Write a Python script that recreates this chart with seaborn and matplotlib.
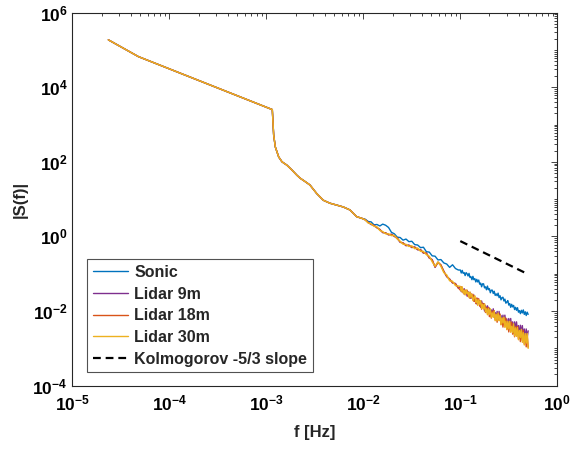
import numpy as np
import pandas as pd
import matplotlib
matplotlib.use("Agg")
import matplotlib.pyplot as plt
import seaborn as sns
from matplotlib.ticker import FixedLocator, FuncFormatter, NullFormatter

# Valores (en log10)
# tramo comun de baja frecuencia
low_logf = [-4.63, -4.32, -2.939, -2.925, -2.908, -2.873, -2.839, -2.788, -2.736,
            -2.685, -2.651, -2.60, -2.551, -2.481, -2.413, -2.344, -2.275, -2.207,
            -2.138, -2.069, -2.01]
low_logS = [5.27, 4.82, 3.40, 2.72, 2.40, 2.13, 2.00, 1.91, 1.78,
            1.64, 1.56, 1.47, 1.38, 1.15, 0.97, 0.89, 0.84, 0.79,
            0.71, 0.53, 0.48]

# frecuencias del tramo ruidoso
tail_logf = [-1.98, -1.95, -1.92, -1.89, -1.86, -1.83, -1.80, -1.77, -1.74, -1.71,
             -1.68, -1.65, -1.62, -1.59, -1.56, -1.53, -1.50, -1.47, -1.44, -1.41,
             -1.38, -1.35, -1.32, -1.29, -1.26, -1.23, -1.20, -1.17, -1.14, -1.11,
             -1.08, -1.05, -1.02,
             -1.00, -0.99, -0.98, -0.97, -0.96, -0.95, -0.94, -0.93, -0.92, -0.91,
             -0.90, -0.89, -0.88, -0.87, -0.86, -0.85, -0.84, -0.83, -0.82, -0.81,
             -0.80, -0.79, -0.78, -0.77, -0.76, -0.75, -0.74, -0.73, -0.72, -0.71,
             -0.70, -0.69, -0.68, -0.67, -0.66, -0.65, -0.64, -0.63, -0.62, -0.61,
             -0.60, -0.59, -0.58, -0.57, -0.56, -0.55, -0.54, -0.53, -0.52, -0.51,
             -0.50, -0.49, -0.48, -0.47, -0.46, -0.45, -0.44, -0.43, -0.42, -0.41,
             -0.40, -0.39, -0.38, -0.37, -0.36, -0.35, -0.34, -0.33, -0.32, -0.31,
             -0.30]

sonic_tail = [0.46, 0.40, 0.39, 0.31, 0.32, 0.28, 0.33, 0.30, 0.24, 0.11,
              0.07, -0.02, -0.03, -0.10, -0.07, -0.14, -0.13, -0.22, -0.23, -0.30,
              -0.29, -0.41, -0.42, -0.52, -0.53, -0.63, -0.62, -0.71, -0.74, -0.83,
              -0.76, -0.86, -0.90,
              -0.90, -0.98, -0.91, -0.99, -0.97, -1.05, -0.97, -1.00, -1.06, -0.99,
              -1.10, -1.08, -1.16, -1.07, -1.16, -1.13, -1.22, -1.15, -1.22, -1.17,
              -1.28, -1.25, -1.35, -1.27, -1.27, -1.38, -1.35, -1.43, -1.33, -1.43,
              -1.40, -1.51, -1.44, -1.44, -1.53, -1.47, -1.58, -1.54, -1.59, -1.52,
              -1.64, -1.59, -1.70, -1.64, -1.63, -1.73, -1.68, -1.79, -1.76, -1.72,
              -1.84, -1.80, -1.90, -1.82, -1.89, -1.85, -1.96, -1.90, -1.98, -1.91,
              -2.03, -1.99, -2.07, -1.98, -2.05, -1.97, -2.09, -2.02, -2.12, -2.03,
              -2.09]

lidar9_tail = [0.44, 0.38, 0.32, 0.30, 0.23, 0.19, 0.10, 0.10, 0.04, 0.06,
               0.00, -0.05, -0.16, -0.17, -0.25, -0.23, -0.30, -0.28, -0.36, -0.35,
               -0.45, -0.44, -0.58, -0.62, -0.83, -0.69, -0.77, -0.93, -1.08, -1.14,
               -1.25, -1.26, -1.39,
               -1.35, -1.48, -1.41, -1.50, -1.40, -1.52, -1.46, -1.60, -1.48, -1.57,
               -1.50, -1.66, -1.58, -1.69, -1.57, -1.74, -1.68, -1.81, -1.66, -1.80,
               -1.72, -1.90, -1.73, -1.87, -1.80, -2.00, -1.86, -1.99, -1.86, -2.02,
               -1.92, -2.13, -1.97, -2.07, -1.94, -2.16, -2.04, -2.21, -2.01, -2.18,
               -2.01, -2.22, -2.12, -2.31, -2.11, -2.26, -2.11, -2.35, -2.21, -2.43,
               -2.20, -2.37, -2.20, -2.48, -2.29, -2.54, -2.29, -2.49, -2.29, -2.57,
               -2.39, -2.66, -2.38, -2.60, -2.39, -2.69, -2.48, -2.77, -2.48, -2.72,
               -2.53]

lidar18_tail = [0.45, 0.37, 0.33, 0.29, 0.24, 0.18, 0.11, 0.09, 0.05, 0.05,
                0.01, -0.04, -0.15, -0.18, -0.24, -0.24, -0.29, -0.29, -0.35, -0.36,
                -0.44, -0.45, -0.57, -0.63, -0.82, -0.70, -0.76, -0.94, -1.07, -1.15,
                -1.24, -1.27, -1.38,
                -1.44, -1.35, -1.49, -1.42, -1.55, -1.44, -1.53, -1.44, -1.61, -1.51,
                -1.66, -1.53, -1.63, -1.55, -1.74, -1.65, -1.80, -1.65, -1.80, -1.67,
                -1.87, -1.78, -1.95, -1.79, -1.91, -1.81, -2.04, -1.91, -2.06, -1.90,
                -2.15, -2.01, -2.19, -2.00, -2.14, -1.99, -2.24, -2.08, -2.30, -2.08,
                -2.25, -2.08, -2.36, -2.20, -2.43, -2.19, -2.40, -2.19, -2.49, -2.34,
                -2.56, -2.30, -2.53, -2.30, -2.62, -2.43, -2.69, -2.41, -2.66, -2.41,
                -2.75, -2.54, -2.82, -2.52, -2.79, -2.52, -2.88, -2.65, -2.96, -2.63,
                -2.97]

lidar30_tail = [0.44, 0.36, 0.34, 0.27, 0.26, 0.16, 0.13, 0.07, 0.07, 0.02,
                0.03, -0.07, -0.13, -0.21, -0.21, -0.27, -0.25, -0.33, -0.31, -0.40,
                -0.40, -0.49, -0.53, -0.68, -0.80, -0.68, -0.80, -0.97, -1.03, -1.19,
                -1.20, -1.32, -1.33,
                -1.34, -1.47, -1.35, -1.52, -1.44, -1.57, -1.43, -1.54, -1.49, -1.64,
                -1.49, -1.63, -1.55, -1.72, -1.64, -1.59, -1.77, -1.68, -1.85, -1.70,
                -1.82, -1.72, -1.93, -1.82, -1.95, -1.81, -2.02, -1.94, -2.10, -1.93,
                -2.09, -1.94, -2.17, -2.05, -2.17, -2.00, -2.26, -2.09, -2.26, -2.05,
                -2.26, -2.12, -2.37, -2.18, -2.32, -2.16, -2.44, -2.27, -2.50, -2.27,
                -2.48, -2.27, -2.57, -2.41, -2.58, -2.34, -2.67, -2.45, -2.68, -2.44,
                -2.77, -2.52, -2.71, -2.49, -2.84, -2.58, -2.91, -2.60, -2.86, -2.60,
                -3.00]

# linea de referencia Kolmogorov
kolmo_f = [0.1, 0.5]
kolmo_S = [0.75, 0.097]

series_names = ["Sonic", "Lidar 9m", "Lidar 18m", "Lidar 30m"]
series_tails = [sonic_tail, lidar9_tail, lidar18_tail, lidar30_tail]
colors = {"Sonic": "#0072BD", "Lidar 9m": "#7E2F8E",
          "Lidar 18m": "#D95319", "Lidar 30m": "#EDB120"}

frames = []
for name, tail in zip(series_names, series_tails):
    frames.append(pd.DataFrame({
        "f": 10 ** np.array(low_logf + tail_logf),
        "S": 10 ** np.array(low_logS + tail),
        "serie": name,
    }))
df = pd.concat(frames, ignore_index=True)

sns.set_theme(style="white")
plt.rcParams["font.family"] = ["Liberation Sans", "DejaVu Sans"]
plt.rcParams["font.weight"] = "bold"
plt.rcParams["mathtext.fontset"] = "custom"
plt.rcParams["mathtext.rm"] = "Liberation Sans:bold"
plt.rcParams["mathtext.bf"] = "Liberation Sans:bold"

fig = plt.figure(figsize=(5.73, 4.5), dpi=100)
ax = fig.add_axes([0.1265, 0.143, 0.846, 0.829])

sns.lineplot(data=df, x="f", y="S", hue="serie", hue_order=series_names,
             palette=colors, estimator=None, sort=False, linewidth=1.0,
             legend=False, ax=ax)
sns.lineplot(x=kolmo_f, y=kolmo_S, color="black", linewidth=1.6,
             linestyle=(0, (3.5, 2.2)), ax=ax)

ax.set_xscale("log")
ax.set_yscale("log")
ax.set_xlim(1e-5, 1e0)
ax.set_ylim(1e-4, 1e6)

# ticks estilo matlab
ax.xaxis.set_major_locator(FixedLocator([10.0 ** k for k in range(-5, 1)]))
ax.yaxis.set_major_locator(FixedLocator([10.0 ** k for k in range(-4, 7, 2)]))
xminor = [m * 10.0 ** k for k in range(-5, 0) for m in range(2, 10)]
yminor = [m * 10.0 ** k for k in range(-4, 6) for m in range(1, 10) if not (m == 1 and k % 2 == 0)]
ax.xaxis.set_minor_locator(FixedLocator(xminor))
ax.yaxis.set_minor_locator(FixedLocator(yminor))
ax.xaxis.set_minor_formatter(NullFormatter())
ax.yaxis.set_minor_formatter(NullFormatter())
fmt = FuncFormatter(lambda v, p: r"$\mathbf{10^{%d}}$" % int(round(np.log10(v))))
ax.xaxis.set_major_formatter(fmt)
ax.yaxis.set_major_formatter(fmt)
ax.tick_params(which="both", direction="in", top=True, right=True,
               colors="#262626", labelcolor="black", labelsize=12.5, width=0.6)
ax.tick_params(which="major", length=4)
ax.tick_params(which="minor", length=2)
ax.tick_params(axis="x", pad=6)
for s in ax.spines.values():
    s.set_color("#262626")
    s.set_linewidth(0.8)

ax.set_xlabel("f [Hz]", fontsize=12, fontweight="bold", labelpad=8)
ax.set_ylabel("|S(f)|", fontsize=12, fontweight="bold", labelpad=3)

labels = series_names + ["Kolmogorov -5/3 slope"]
leg = ax.legend(ax.lines[:5], labels, loc="lower left",
                bbox_to_anchor=(0.03, 0.036), borderaxespad=0,
                prop={"weight": "bold", "size": 11.5}, frameon=True,
                fancybox=False, handlelength=2.2, labelspacing=0.42,
                borderpad=0.35, handletextpad=0.4)
leg.get_frame().set_edgecolor("#262626")
leg.get_frame().set_linewidth(0.8)

fig.savefig("out.png", dpi=100)
